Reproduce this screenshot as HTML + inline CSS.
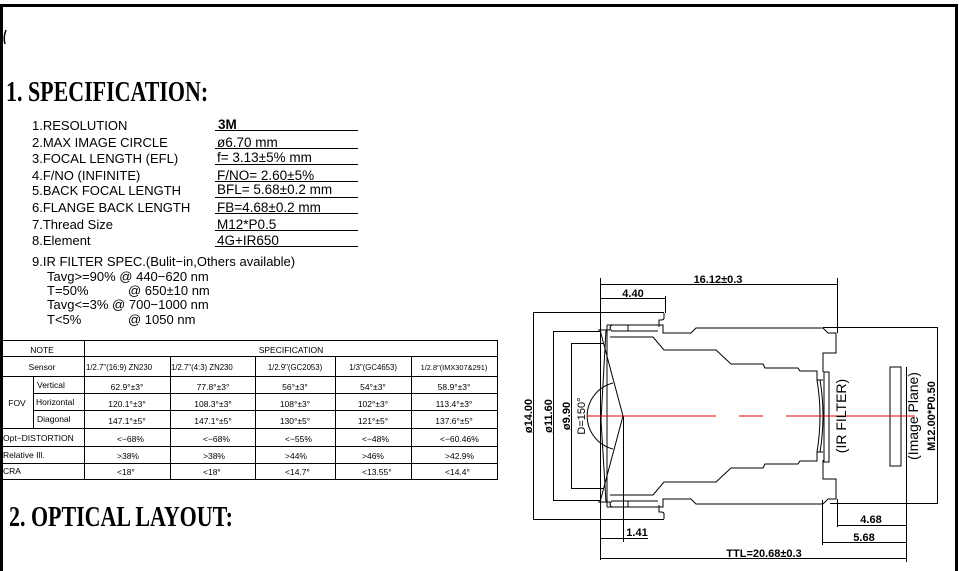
<!DOCTYPE html>
<html><head><meta charset="utf-8"><style>
html,body{margin:0;padding:0;background:#fff;}
svg{display:block;}
text{font-family:"Liberation Sans",sans-serif;fill:#000;}
.t{font-size:13px;}
.s{font-size:8.5px;}
.d{font-size:11px;font-weight:bold;}
</style></head><body>
<svg width="959" height="571" viewBox="0 0 959 571" xmlns="http://www.w3.org/2000/svg">
<rect width="959" height="571" fill="#fff"/>
<path d="M1.5 571 V5.5 H956.5 V571" fill="none" stroke="#000" stroke-width="3"/>
<path d="M6 30 Q3 37 5 44" fill="none" stroke="#000" stroke-width="1.5"/>

<text x="6" y="101" transform="translate(6 101) scale(0.785 1) translate(-6 -101)" style="font-family:'Liberation Serif',serif;font-size:28px;font-weight:bold;">1. SPECIFICATION:</text>
<text x="9" y="526" transform="translate(9 526) scale(0.785 1) translate(-9 -526)" style="font-family:'Liberation Serif',serif;font-size:28px;font-weight:bold;">2. OPTICAL LAYOUT:</text>

<g class="t">
<text x="32" y="130">1.RESOLUTION</text>
<text x="32" y="147">2.MAX  IMAGE  CIRCLE</text>
<text x="32" y="163">3.FOCAL  LENGTH  (EFL)</text>
<text x="32" y="180">4.F/NO  (INFINITE)</text>
<text x="32" y="195">5.BACK  FOCAL  LENGTH</text>
<text x="32" y="212">6.FLANGE  BACK  LENGTH</text>
<text x="32" y="229">7.Thread  Size</text>
<text x="32" y="245">8.Element</text>
<text x="32" y="266">9.IR  FILTER  SPEC.(Bulit−in,Others  available)</text>
<text x="47" y="281">Tavg&gt;=90%  @  440−620  nm</text>
<text x="47" y="295">T=50%</text><text x="128" y="295">@  650±10  nm</text>
<text x="47" y="309">Tavg&lt;=3%   @  700−1000  nm</text>
<text x="47" y="324">T&lt;5%</text><text x="128" y="324">@  1050  nm</text>
</g>
<g class="t" style="font-size:13.5px">
<text x="218" y="129" style="font-weight:bold">3M</text>
<text x="217" y="147">ø6.70  mm</text>
<text x="217" y="162">f= 3.13±5%     mm</text>
<text x="217" y="180">F/NO= 2.60±5%</text>
<text x="217" y="194">BFL= 5.68±0.2 mm</text>
<text x="217" y="212">FB=4.68±0.2   mm</text>
<text x="217" y="229">M12*P0.5</text>
<text x="217" y="245">4G+IR650</text>
</g>
<g stroke="#000" stroke-width="1">
<line x1="215" y1="130.5" x2="358" y2="130.5"/>
<line x1="215" y1="148.5" x2="358" y2="148.5"/>
<line x1="215" y1="164.5" x2="358" y2="164.5"/>
<line x1="215" y1="181.5" x2="358" y2="181.5"/>
<line x1="215" y1="197.5" x2="358" y2="197.5"/>
<line x1="215" y1="213.5" x2="358" y2="213.5"/>
<line x1="215" y1="230.5" x2="358" y2="230.5"/>
<line x1="215" y1="246.5" x2="358" y2="246.5"/>
</g>

<g stroke="#000" stroke-width="1" fill="none">
<line x1="0" y1="340.5" x2="498" y2="340.5"/>
<line x1="0" y1="356.5" x2="498" y2="356.5"/>
<line x1="0" y1="376.5" x2="498" y2="376.5"/>
<line x1="33" y1="393.5" x2="498" y2="393.5"/>
<line x1="33" y1="410.5" x2="498" y2="410.5"/>
<line x1="0" y1="428.5" x2="498" y2="428.5"/>
<line x1="0" y1="446.5" x2="498" y2="446.5"/>
<line x1="0" y1="463.5" x2="498" y2="463.5"/>
<line x1="0" y1="479.5" x2="498" y2="479.5"/>
<line x1="84.5" y1="340" x2="84.5" y2="480"/>
<line x1="33.5" y1="376" x2="33.5" y2="428"/>
<line x1="170.5" y1="356" x2="170.5" y2="480"/>
<line x1="255.5" y1="356" x2="255.5" y2="480"/>
<line x1="335.5" y1="356" x2="335.5" y2="480"/>
<line x1="411.5" y1="356" x2="411.5" y2="480"/>
<line x1="497.5" y1="340" x2="497.5" y2="480"/>
</g>
<g class="s">
<text x="42" y="353" text-anchor="middle">NOTE</text>
<text x="291" y="353" text-anchor="middle">SPECIFICATION</text>
<text x="42" y="370" text-anchor="middle">Sensor</text>
<text x="86" y="370" style="font-size:7.8px">1/2.7"(16:9) ZN230</text>
<text x="171" y="370" style="font-size:7.8px">1/2.7"(4:3) ZN230</text>
<text x="295" y="370" text-anchor="middle" style="font-size:7.8px">1/2.9"(GC2053)</text>
<text x="373" y="370" text-anchor="middle" style="font-size:7.8px">1/3"(GC4653)</text>
<text x="454" y="370" text-anchor="middle" style="font-size:7.4px">1/2.8"(IMX307&amp;291)</text>
<text x="17" y="406" text-anchor="middle">FOV</text>
<text x="37" y="388">Vertical</text>
<text x="36" y="405">Horizontal</text>
<text x="37" y="422">Diagonal</text>
<text x="127" y="390" text-anchor="middle">62.9°±3°</text>
<text x="213" y="390" text-anchor="middle">77.8°±3°</text>
<text x="295" y="390" text-anchor="middle">56°±3°</text>
<text x="373" y="390" text-anchor="middle">54°±3°</text>
<text x="454" y="390" text-anchor="middle">58.9°±3°</text>
<text x="127" y="407" text-anchor="middle">120.1°±3°</text>
<text x="213" y="407" text-anchor="middle">108.3°±3°</text>
<text x="295" y="407" text-anchor="middle">108°±3°</text>
<text x="373" y="407" text-anchor="middle">102°±3°</text>
<text x="454" y="407" text-anchor="middle">113.4°±3°</text>
<text x="127" y="424" text-anchor="middle">147.1°±5°</text>
<text x="213" y="424" text-anchor="middle">147.1°±5°</text>
<text x="295" y="424" text-anchor="middle">130°±5°</text>
<text x="373" y="424" text-anchor="middle">121°±5°</text>
<text x="454" y="424" text-anchor="middle">137.6°±5°</text>
<text x="3" y="441">Opt−DISTORTION</text>
<text x="117" y="442">&lt;−68%</text><text x="203" y="442">&lt;−68%</text><text x="285" y="442">&lt;−55%</text><text x="362" y="442">&lt;−48%</text><text x="440" y="442">&lt;−60.46%</text>
<text x="3" y="458">Relative Ill.</text>
<text x="117" y="459">&gt;38%</text><text x="203" y="459">&gt;38%</text><text x="285" y="459">&gt;44%</text><text x="362" y="459">&gt;46%</text><text x="445" y="459">&gt;42.9%</text>
<text x="3" y="474">CRA</text>
<text x="117" y="475">&lt;18°</text><text x="203" y="475">&lt;18°</text><text x="285" y="475">&lt;14.7°</text><text x="362" y="475">&lt;13.55°</text><text x="445" y="475">&lt;14.4°</text>
</g>

<g stroke="#000" stroke-width="1" fill="none">
<line x1="600.5" y1="278" x2="600.5" y2="560"/>
<line x1="600" y1="284.5" x2="837" y2="284.5"/>
<line x1="837.5" y1="278" x2="837.5" y2="333"/>
<line x1="600" y1="298.5" x2="665" y2="298.5"/>
<line x1="665.5" y1="296" x2="665.5" y2="313"/>
<line x1="533.5" y1="312" x2="533.5" y2="519"/>
<line x1="533" y1="312.5" x2="664" y2="312.5"/>
<line x1="533" y1="519.5" x2="664" y2="519.5"/>
<line x1="553.5" y1="331" x2="553.5" y2="501"/>
<line x1="553" y1="331.5" x2="601" y2="331.5"/>
<line x1="553" y1="500.5" x2="601" y2="500.5"/>
<line x1="571.5" y1="343" x2="571.5" y2="489"/>
<line x1="571" y1="343.5" x2="603" y2="343.5"/>
<line x1="571" y1="488.5" x2="603" y2="488.5"/>
<path d="M664 313 V318 Q664 320 661 320 H659 V327"/>
<path d="M664 519 V514 Q664 512 661 512 H659 V505"/>
<path d="M607 325 H663 V333 H691 L696 328 H823 L828 333 H836 V353 H823 V372"/>
<path d="M607 507 H663 V499 H691 L696 504 H823 L828 499 H836 V479 H823 V460"/>
<line x1="607" y1="325" x2="607" y2="507"/>
<path d="M612 325 Q608 328 612 331 H658"/>
<path d="M612 507 Q608 504 612 501 H658"/>
<line x1="628" y1="325" x2="628" y2="331"/>
<line x1="628" y1="501" x2="628" y2="507"/>
<path d="M610 337 H653 L664 350 H716 L731 364 H763 L765 368 H798 L800 371 H817 V380 H823"/>
<path d="M610 495 H653 L664 482 H716 L731 468 H763 L765 464 H798 L800 461 H817 V452 H823"/>
<path d="M817 380 Q823 416 817 452"/>
<path d="M820 380 Q826 416 820 452"/>
<path d="M600 330 L623 416 L600 502"/>
<path d="M606 330 L601 420 L606 502" />
<line x1="598" y1="330" x2="610" y2="330"/>
<line x1="598" y1="502" x2="610" y2="502"/>
<path d="M613 383 A34 34 0 0 0 613 449"/>
<line x1="623.5" y1="416" x2="623.5" y2="542"/>
<rect x="824" y="372" width="5" height="90"/>
<rect x="890" y="367" width="11" height="99"/>
<line x1="906.5" y1="367" x2="906.5" y2="562"/>
<line x1="823" y1="327.5" x2="937" y2="327.5"/>
<line x1="830" y1="503.5" x2="937" y2="503.5"/>
<line x1="937.5" y1="327" x2="937.5" y2="504"/>
<line x1="837.5" y1="499" x2="837.5" y2="527"/>
<line x1="822.5" y1="500" x2="822.5" y2="545"/>
<line x1="837" y1="525.5" x2="906" y2="525.5"/>
<line x1="822" y1="542.5" x2="906" y2="542.5"/>
<line x1="601" y1="558.5" x2="906" y2="558.5"/>
<line x1="601" y1="538.5" x2="648" y2="538.5"/>
</g>
<g stroke="#e00" stroke-width="1">
<line x1="587" y1="416" x2="716" y2="416"/>
<line x1="739" y1="416" x2="763" y2="416"/>
<line x1="786" y1="416" x2="915" y2="416"/>
</g>
<g class="d">
<text x="718" y="283" text-anchor="middle">16.12±0.3</text>
<text x="633" y="297" text-anchor="middle">4.40</text>
<text x="871" y="523" text-anchor="middle">4.68</text>
<text x="864" y="541" text-anchor="middle">5.68</text>
<text x="637" y="536" text-anchor="middle">1.41</text>
<text x="764" y="557" text-anchor="middle">TTL=20.68±0.3</text>
<text transform="translate(532 416) rotate(-90)" text-anchor="middle">ø14.00</text>
<text transform="translate(552 416) rotate(-90)" text-anchor="middle">ø11.60</text>
<text transform="translate(570 416) rotate(-90)" text-anchor="middle">ø9.90</text>
<text transform="translate(585 416) rotate(-90)" text-anchor="middle" style="font-weight:normal">D=150°</text>
<text transform="translate(935 416) rotate(-90)" text-anchor="middle">M12.00*P0.50</text>
</g>
<text transform="translate(846 416) rotate(-90)" text-anchor="middle" style="font-size:14px">(IR  FILTER)</text>
<text transform="translate(918 416) rotate(-90)" text-anchor="middle" style="font-size:14px">(Image  Plane)</text>
</svg>
</body></html>
